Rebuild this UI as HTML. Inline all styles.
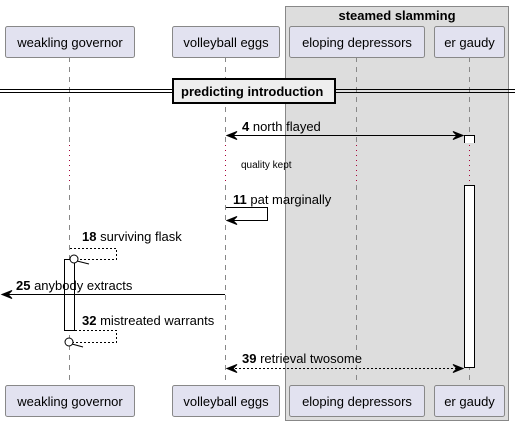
<!DOCTYPE html>
<html><head><meta charset="utf-8"><style>
body{margin:0;background:#fff}
svg{display:block;font-family:"Liberation Sans",sans-serif}
</style></head><body>
<svg width="515" height="426" viewBox="0 0 515 426">
<g>
<rect x="285.5" y="6.5" width="223" height="414" fill="#dddddd" stroke="#888" stroke-width="1"/>
<text x="397" y="20" font-size="13" font-weight="bold" text-anchor="middle" fill="#000">steamed slamming</text>
</g>
<g stroke="#888" stroke-dasharray="5,5" stroke-width="1">
<line x1="69.5" y1="57" x2="69.5" y2="143"/><line x1="69.5" y1="185" x2="69.5" y2="385"/>
<line x1="225.5" y1="57" x2="225.5" y2="143"/><line x1="225.5" y1="185" x2="225.5" y2="385"/>
<line x1="356.5" y1="57" x2="356.5" y2="143"/><line x1="356.5" y1="185" x2="356.5" y2="385"/>
<line x1="469.5" y1="57" x2="469.5" y2="143"/><line x1="469.5" y1="185" x2="469.5" y2="385"/>
</g>
<g stroke="#a80036" stroke-dasharray="1,4" stroke-width="1">
<line x1="69.5" y1="145" x2="69.5" y2="185"/><line x1="225.5" y1="145" x2="225.5" y2="185"/>
<line x1="356.5" y1="145" x2="356.5" y2="185"/><line x1="469.5" y1="145" x2="469.5" y2="185"/>
</g>
<text x="241" y="168" font-size="10" fill="#000">quality kept</text>
<g font-size="13" text-anchor="middle" fill="#000">
<rect x="5.5" y="26.5" width="129" height="31" rx="2" fill="#e2e2f0" stroke="#888"/><text x="70" y="47">weakling governor</text>
<rect x="172.5" y="26.5" width="107" height="31" rx="2" fill="#e2e2f0" stroke="#888"/><text x="226" y="47">volleyball eggs</text>
<rect x="289.5" y="26.5" width="135" height="31" rx="2" fill="#e2e2f0" stroke="#888"/><text x="357" y="47">eloping depressors</text>
<rect x="434.5" y="26.5" width="70" height="31" rx="2" fill="#e2e2f0" stroke="#888"/><text x="469.5" y="47">er gaudy</text>
</g>
<g font-size="13" text-anchor="middle" fill="#000">
<rect x="5.5" y="385.5" width="129" height="31" rx="2" fill="#e2e2f0" stroke="#888"/><text x="70" y="406">weakling governor</text>
<rect x="172.5" y="385.5" width="107" height="31" rx="2" fill="#e2e2f0" stroke="#888"/><text x="226" y="406">volleyball eggs</text>
<rect x="289.5" y="385.5" width="135" height="31" rx="2" fill="#e2e2f0" stroke="#888"/><text x="357" y="406">eloping depressors</text>
<rect x="434.5" y="385.5" width="70" height="31" rx="2" fill="#e2e2f0" stroke="#888"/><text x="469.5" y="406">er gaudy</text>
</g>
<g>
<line x1="0" y1="89.5" x2="515" y2="89.5" stroke="#000"/><line x1="0" y1="92.5" x2="515" y2="92.5" stroke="#000"/>
<rect x="173" y="79" width="162" height="24" fill="#eeeeee" stroke="#000" stroke-width="2"/>
<text x="181" y="96" font-size="13" font-weight="bold" fill="#000">predicting introduction</text>
</g>
<g fill="#fff" stroke="#000">
<path d="M464.5,143 V135.5 H474.5 V143" />
<rect x="464.5" y="185.5" width="10" height="182"/>
<rect x="64.5" y="259.5" width="10" height="71"/>
</g>
<g stroke="#000" fill="none" stroke-width="1" font-size="13">
<g>
<line x1="227" y1="135.5" x2="463" y2="135.5"/>
<path d="M227,135.5 l10,-4 l-4,4 l4,4z M463,135.5 l-10,-4 l4,4 l-4,4z" fill="#000"/>
<text x="242" y="131" stroke="none" fill="#000"><tspan font-weight="bold">4</tspan> north flayed</text>
</g>
<g>
<path d="M226,207.5 H267.5 V220.5 H227"/>
<path d="M227,220.5 l10,-4 l-4,4 l4,4z" fill="#000"/>
<text x="233" y="204" stroke="none" fill="#000"><tspan font-weight="bold">11</tspan> pat marginally</text>
</g>
<g>
<path d="M70,248.5 H116.5 V259.5 H78" stroke-dasharray="2,2"/>
<circle cx="74" cy="259" r="4" fill="#fff"/><line x1="77" y1="261" x2="89" y2="264"/>
<text x="82" y="241" stroke="none" fill="#000"><tspan font-weight="bold">18</tspan> surviving flask</text>
</g>
<g>
<line x1="225" y1="294.5" x2="3" y2="294.5"/>
<path d="M2,294.5 l10,-4 l-4,4 l4,4z" fill="#000"/>
<text x="16" y="290" stroke="none" fill="#000"><tspan font-weight="bold">25</tspan> anybody extracts</text>
</g>
<g>
<path d="M75,330.5 H116.5 V342.5 H73" stroke-dasharray="2,2"/>
<circle cx="69" cy="342" r="4" fill="#fff"/><line x1="72" y1="344" x2="83" y2="347"/>
<text x="82" y="325" stroke="none" fill="#000"><tspan font-weight="bold">32</tspan> mistreated warrants</text>
</g>
<g>
<line x1="227" y1="368.5" x2="463" y2="368.5" stroke-dasharray="2,2"/>
<path d="M227,368.5 l10,-4 l-4,4 l4,4z M463,368.5 l-10,-4 l4,4 l-4,4z" fill="#000"/>
<text x="242" y="363" stroke="none" fill="#000"><tspan font-weight="bold">39</tspan> retrieval twosome</text>
</g>
</g>
</svg>
</body></html>
